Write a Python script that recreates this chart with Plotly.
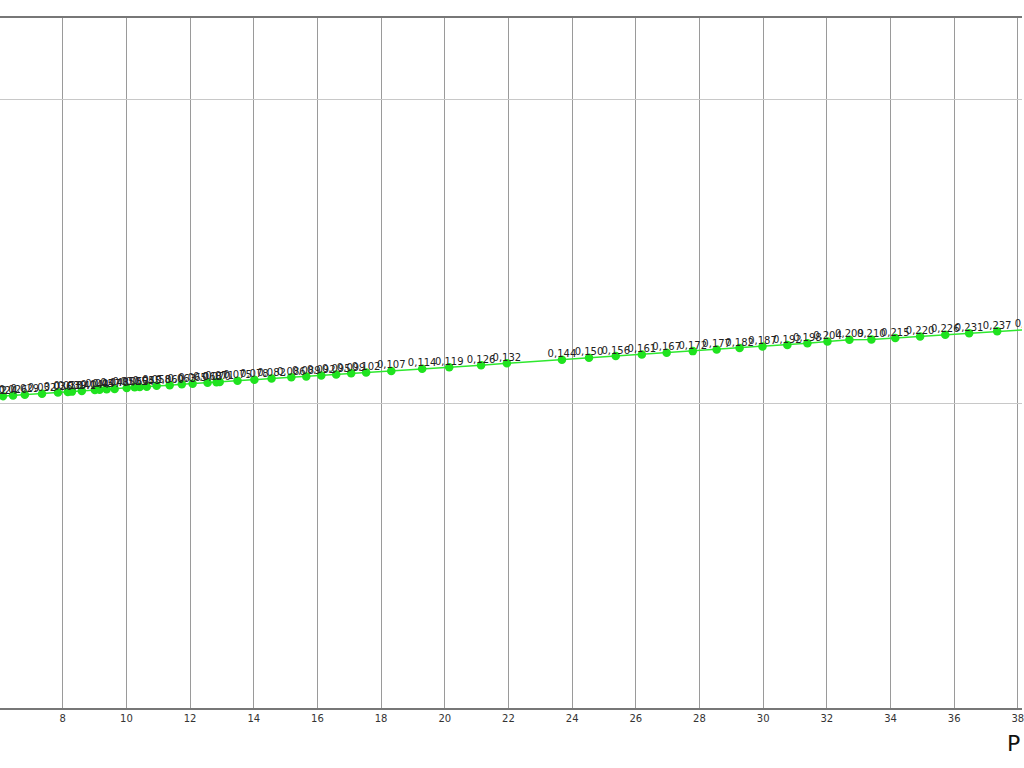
import plotly.graph_objects as go

# point positions along the x axis
x_vals = [5.80, 6.12, 6.44, 6.81, 7.35, 7.85, 8.16, 8.29, 8.60, 9.01, 9.16, 9.38, 9.63,
          10.01, 10.26, 10.42, 10.64, 10.95, 11.36, 11.74, 12.08, 12.55, 12.83, 12.93,
          13.49, 14.02, 14.56, 15.18, 15.65, 16.12, 16.59, 17.06, 17.53, 18.32, 19.29,
          20.14, 21.14, 21.95, 23.68, 24.53, 25.37, 26.19, 26.97, 27.79, 28.54, 29.26,
          29.98, 30.76, 31.39, 32.02, 32.71, 33.40, 34.15, 34.93, 35.72, 36.47, 37.35, 38.35]

# plotted values
y_vals = [1.022, 1.024, 1.026, 1.029, 1.032, 1.036, 1.038, 1.039, 1.041, 1.044, 1.045,
          1.047, 1.048, 1.051, 1.053, 1.054, 1.055, 1.058, 1.060, 1.063, 1.065, 1.068,
          1.070, 1.071, 1.075, 1.078, 1.082, 1.086, 1.089, 1.092, 1.095, 1.099, 1.102,
          1.107, 1.114, 1.119, 1.126, 1.132, 1.144, 1.150, 1.156, 1.161, 1.167, 1.172,
          1.177, 1.182, 1.187, 1.192, 1.198, 1.204, 1.209, 1.210, 1.215, 1.220, 1.226,
          1.231, 1.237, 1.243]

# value labels printed above each point
point_labels = ["0,022", "0,024", "0,026", "0,029", "0,032", "0,036", "0,038", "0,039",
                "0,041", "0,044", "0,045", "0,047", "0,048", "0,051", "0,053", "0,054",
                "0,055", "0,058", "0,060", "0,063", "0,065", "0,068", "0,070", "0,071",
                "0,075", "0,078", "0,082", "0,086", "0,089", "0,092", "0,095", "0,099",
                "0,102", "0,107", "0,114", "0,119", "0,126", "0,132", "0,144", "0,150",
                "0,156", "0,161", "0,167", "0,172", "0,177", "0,182", "0,187", "0,192",
                "0,198", "0,204", "0,209", "0,210", "0,215", "0,220", "0,226", "0,231",
                "0,237", "0,243"]

x_ticks = list(range(8, 40, 2))

fig = go.Figure()

# line with markers
fig.add_trace(go.Scatter(
    x=x_vals,
    y=y_vals,
    mode='lines+markers',
    line=dict(color='#2ee82e', width=1.5),
    marker=dict(color='#1fe31f', size=8.5),
    showlegend=False
))

# labels sit just above the points
fig.add_trace(go.Scatter(
    x=x_vals,
    y=y_vals,
    mode='text',
    text=point_labels,
    textposition='top center',
    textfont=dict(family='DejaVu Sans', size=10, color='#222222'),
    showlegend=False,
    hoverinfo='skip'
))

fig.update_layout(
    width=1024,
    height=768,
    margin=dict(l=0, r=0, t=18, b=60),
    plot_bgcolor='white',
    paper_bgcolor='white',
    font=dict(family='DejaVu Sans', size=10, color='#333333')
)

fig.update_xaxes(
    range=[6.03, 38.13],
    tickvals=x_ticks,
    ticktext=[str(t) for t in x_ticks],
    ticklabeloverflow='allow',
    showgrid=True, gridcolor='#9a9a9a', gridwidth=1,
    showline=True, linecolor='#777777', linewidth=2, mirror=True,
    zeroline=False,
    ticks=''
)
fig.update_yaxes(
    range=[0, 2.266],
    dtick=1,
    showticklabels=False,
    showgrid=True, gridcolor='#c8c8c8', gridwidth=1,
    showline=False,
    zeroline=False
)

# axis title, cut off at the right edge as in the source
fig.add_annotation(
    text='P', xref='paper', yref='paper', x=0.983, y=-0.052,
    xanchor='left', yanchor='middle', showarrow=False,
    font=dict(family='DejaVu Sans', size=22, color='#111111')
)

fig.write_html("out.html", config={'displayModeBar': False},
               post_script="document.body.style.margin='0';")
